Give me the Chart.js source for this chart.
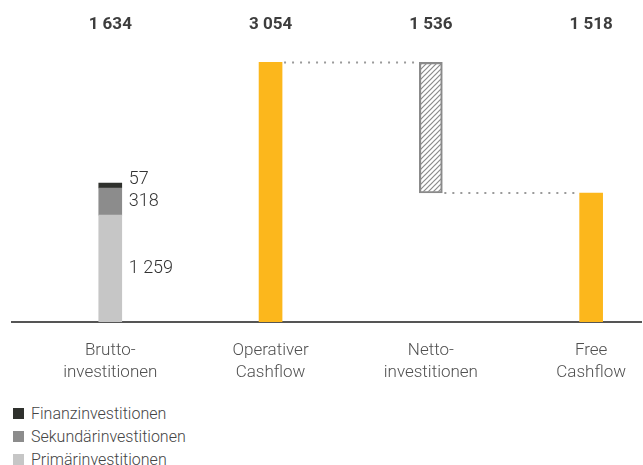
<!DOCTYPE html>
<html lang="de">
<head>
<meta charset="UTF-8" />
<title>Cashflow</title>
<script src="https://cdn.jsdelivr.net/npm/chart.js"></script>
<style>
  html, body { margin: 0; padding: 0; background: #fff; }
  #wrap { position: relative; width: 643px; height: 465px; font-family: Roboto, "Liberation Sans", sans-serif; }
  #box { position: absolute; left: 0; top: 0; width: 643px; height: 401px; }
  #legend { position: absolute; left: 13px; top: 402px; font-size: 16px; font-weight: 300; color: #444; }
  #legend div { display: flex; align-items: center; height: 23px; }
  #legend span.sw { display: inline-block; width: 11px; height: 11px; margin-right: 7px; }
</style>
</head>
<body>
<div id="wrap">
  <div id="box"><canvas id="chart"></canvas></div>
  <div id="legend"></div>
</div>

<script>
// categories and values
const categories = [['Brutto-', 'investitionen'], ['Operativer', 'Cashflow'], ['Netto-', 'investitionen'], ['Free', 'Cashflow']];
const totals = [1634, 3054, 1536, 1518];
const primaer = 1259;
const sekundaer = 318;
const finanz = 57;
const cashflow = [3054, 1518];       // Operativer Cashflow, Free Cashflow
const netto = [1518, 3054];          // floating bar from Free CF up to Operativer CF
const legendItems = ['Finanzinvestitionen', 'Sekundärinvestitionen', 'Primärinvestitionen'];

const ORANGE = '#fcb71c';
const C_PRIM = '#c6c6c6', C_SEK = '#8c8c8c', C_FIN = '#2f312d';

const fmt = n => String(n).replace(/\B(?=(\d{3})+(?!\d))/g, ' ');

// hatch pattern for Nettoinvestitionen
function hatch() {
  const s = 5;
  const c = document.createElement('canvas');
  c.width = s; c.height = s;
  const g = c.getContext('2d');
  g.strokeStyle = '#8a8a8a';
  g.lineWidth = 1.2;
  g.beginPath();
  g.moveTo(0, s); g.lineTo(s, 0);
  g.moveTo(-1, 1); g.lineTo(1, -1);
  g.moveTo(s - 1, s + 1); g.lineTo(s + 1, s - 1);
  g.stroke();
  return g.createPattern(c, 'repeat');
}

// legend
document.getElementById('legend').innerHTML = legendItems.map((t, i) =>
  '<div><span class="sw" style="background:' + [C_FIN, C_SEK, C_PRIM][i] + '"></span>' + t + '</div>').join('');

const extras = {
  id: 'extras',
  afterDatasetsDraw(chart) {
    const { ctx, scales: { x, y } } = chart;
    const half = 11.5;
    ctx.save();
    // dotted connectors
    ctx.strokeStyle = '#9a9a9a';
    ctx.lineWidth = 2;
    ctx.setLineDash([2, 6]);
    ctx.beginPath();
    ctx.moveTo(x.getPixelForValue(1) + half + 2, y.getPixelForValue(netto[1]));
    ctx.lineTo(x.getPixelForValue(2) - half, y.getPixelForValue(netto[1]));
    ctx.moveTo(x.getPixelForValue(2) + half + 2, y.getPixelForValue(netto[0]));
    ctx.lineTo(x.getPixelForValue(3) - half, y.getPixelForValue(netto[0]));
    ctx.stroke();
    ctx.setLineDash([]);

    // totals on top
    ctx.fillStyle = '#3d3d3d';
    ctx.font = 'bold 17px Roboto, "Liberation Sans", sans-serif';
    ctx.textAlign = 'center';
    ctx.textBaseline = 'middle';
    totals.forEach((v, i) => ctx.fillText(fmt(v), x.getPixelForValue(i), 25));

    // segment labels next to the Brutto bar
    ctx.fillStyle = '#333';
    ctx.font = '300 18px Roboto, "Liberation Sans", sans-serif';
    ctx.textAlign = 'left';
    const lx = x.getPixelForValue(0) + half + 7;
    let base = 0, prev = Infinity;
    [primaer, sekundaer, finanz].forEach(v => {
      let yy = y.getPixelForValue(base + v / 2);
      if (yy > prev - 22) yy = prev - 22;
      ctx.fillText(fmt(v), lx, yy);
      prev = yy;
      base += v;
    });
    ctx.restore();
  }
};

new Chart(document.getElementById('chart'), {
  type: 'bar',
  data: {
    datasets: [
      { label: 'Primärinvestitionen', data: [{ x: 0, y: primaer }], backgroundColor: C_PRIM, stack: 'a' },
      { label: 'Sekundärinvestitionen', data: [{ x: 0, y: sekundaer }], backgroundColor: C_SEK, stack: 'a' },
      { label: 'Finanzinvestitionen', data: [{ x: 0, y: finanz }], backgroundColor: C_FIN, stack: 'a' },
      { label: 'Cashflow', data: [{ x: 1, y: cashflow[0] }, { x: 3, y: cashflow[1] }], backgroundColor: ORANGE, stack: 'b' },
      { label: 'Nettoinvestitionen', data: [{ x: 2, y: netto }], backgroundColor: hatch(),
        borderColor: '#8a8a8a', borderWidth: 1.5, borderSkipped: false, stack: 'c' }
    ]
  },
  options: {
    responsive: true,
    maintainAspectRatio: false,
    animation: false,
    barThickness: 23,
    grouped: false,
    layout: { padding: { left: 12, right: 0, top: 50, bottom: 0 } },
    plugins: { legend: { display: false }, tooltip: { enabled: false } },
    scales: {
      x: {
        type: 'linear',
        offset: false,
        min: -0.613,
        max: 3.314,
        afterBuildTicks: s => { s.ticks = categories.map((_, i) => ({ value: i })); },
        grid: { display: false, drawTicks: false, offset: false },
        border: { display: true, color: '#555', width: 2 },
        ticks: {
          padding: 17,
          color: '#505050',
          font: { family: 'Roboto, "Liberation Sans", sans-serif', size: 17, weight: 300, lineHeight: 1.32 },
          maxRotation: 0,
          autoSkip: false,
          callback: v => categories[v] || ''
        }
      },
      y: {
        display: false,
        stacked: true,
        min: 0,
        max: 3200
      }
    }
  },
  plugins: [extras]
});
</script>
</body>
</html>
